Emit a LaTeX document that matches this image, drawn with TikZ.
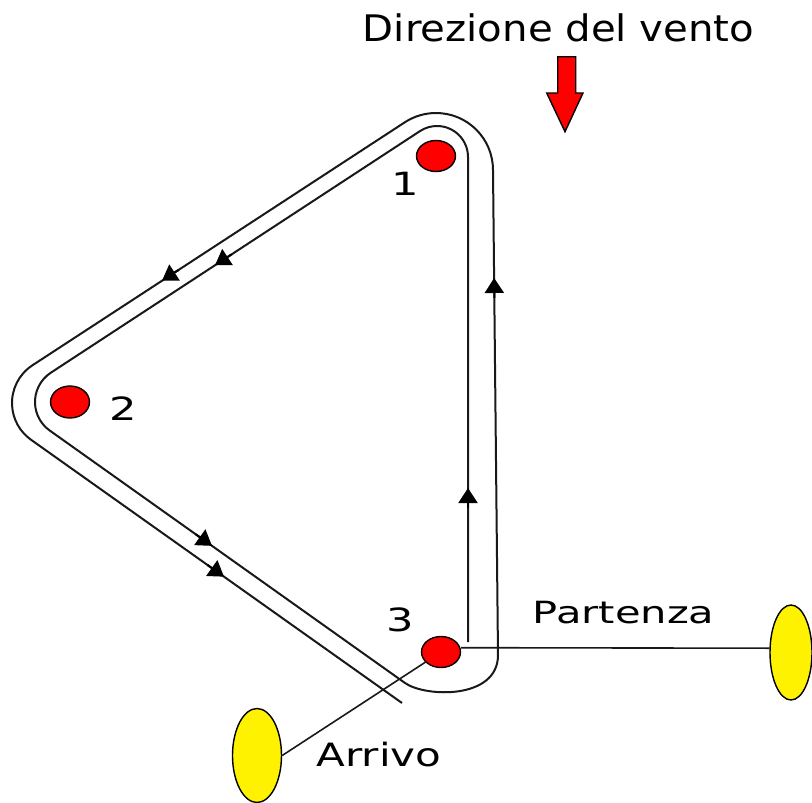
\documentclass[tikz,border=0pt]{standalone}
\usepackage{fontspec}
\setmainfont{DejaVu Sans}
\usetikzlibrary{shapes.geometric,arrows.meta,calc}
\begin{document}
\begin{tikzpicture}[x=1pt,y=1pt,
  course/.style={line width=2pt, line join=round, draw=black!90},
  thinline/.style={line width=1.6pt, draw=black!90},
  flow/.style={line width=2pt,-{Triangle[width=19pt,length=15pt]}},
  redbuoy/.style={ellipse, draw=black, line width=1.4pt, fill=red, minimum width=39pt, minimum height=31pt, inner sep=0pt},
  yellowbuoy/.style={ellipse, draw=black, line width=1.4pt, fill=yellow, minimum width=49pt, minimum height=94pt, inner sep=0pt},
  lbl/.style={inner sep=0pt, font=\fontsize{32}{32}\selectfont, xscale=1.35},
  txt/.style={anchor=base west, inner sep=0pt},
]
\useasboundingbox (0,0) rectangle (812,-803);

% title and wind arrow
\node[txt, font=\fontsize{36.6}{40}\selectfont, xscale=1.10] (title) at (362.7,-41.7) {Direzione del vento};
\draw[fill=red, line width=1.4pt, line join=miter] (557.7,-56.7) -- (575.7,-56.7) -- (575.7,-93) -- (583,-93) -- (565,-131.7) -- (546.7,-93) -- (557.7,-93) -- cycle;

% course (inner lap then outer lap)
\draw[course] (468,-642) -- (468,-157)
  arc[start angle=0,end angle=123.2,radius=31] -- (50.83,-372.71)
  arc[start angle=123.2,end angle=234.6,radius=35] -- (405,-683)
  .. controls (425,-697.2) and (498,-700) .. (498,-655) -- (493,-170)
  arc[start angle=0,end angle=123.13,radius=57] -- (32.40,-365.32)
  arc[start angle=123.13,end angle=234.65,radius=45] -- (402,-703);

% segment end points for the direction arrows
\coordinate (riA) at (468,-642);    \coordinate (riB) at (468,-157);
\coordinate (roA) at (498,-655);    \coordinate (roB) at (493,-170);
\coordinate (uiA) at (420.0,-131.06); \coordinate (uiB) at (50.83,-372.71);
\coordinate (uoA) at (404.84,-122.27); \coordinate (uoB) at (32.40,-365.32);
\coordinate (liA) at (49.72,-430.53); \coordinate (liB) at (405,-683);
\coordinate (loA) at (30.96,-439.7); \coordinate (loB) at (402,-703);

\draw[flow] ($(riA)!0.2763!(riB)$) -- ($(riA)!0.3175!(riB)$);
\draw[flow] ($(roA)!0.7361!(roB)$) -- ($(roA)!0.7773!(roB)$);
\draw[flow] ($(uiA)!0.510!(uiB)$) -- ($(uiA)!0.5553!(uiB)$);
\draw[flow] ($(uoA)!0.607!(uoB)$) -- ($(uoA)!0.652!(uoB)$);
\draw[flow] ($(liA)!0.411!(liB)$) -- ($(liA)!0.4568!(liB)$);
\draw[flow] ($(loA)!0.476!(loB)$) -- ($(loA)!0.5203!(loB)$);

% buoys
\node[redbuoy] (b1) at (436,-156) {};
\node[redbuoy, minimum height=32pt] (b2) at (70,-402) {};
\node[redbuoy] (b3) at (441,-652) {};
\node[yellowbuoy, minimum width=42pt, minimum height=95pt] (start) at (791,-652.5) {};
\node[yellowbuoy] (finish) at (257,-755.5) {};

% start and finish lines
\draw[thinline] ([yshift=4.3pt]b3.east) -- ([yshift=4.3pt]start.west);
\draw[thinline] (b3) -- (finish.east);

% labels
\node[lbl] (l1) at (405,-183.5) {1};
\node[lbl] (l2) at (123,-409) {2};
\node[lbl] (l3) at (400.5,-620) {3};
\node[txt, font=\fontsize{30.6}{32}\selectfont, xscale=1.36] (partenza) at (532.6,-623.3) {Partenza};
\node[txt, font=\fontsize{32.1}{34}\selectfont, xscale=1.31] (arrivo) at (316.4,-766.7) {Arrivo};
\end{tikzpicture}
\end{document}
